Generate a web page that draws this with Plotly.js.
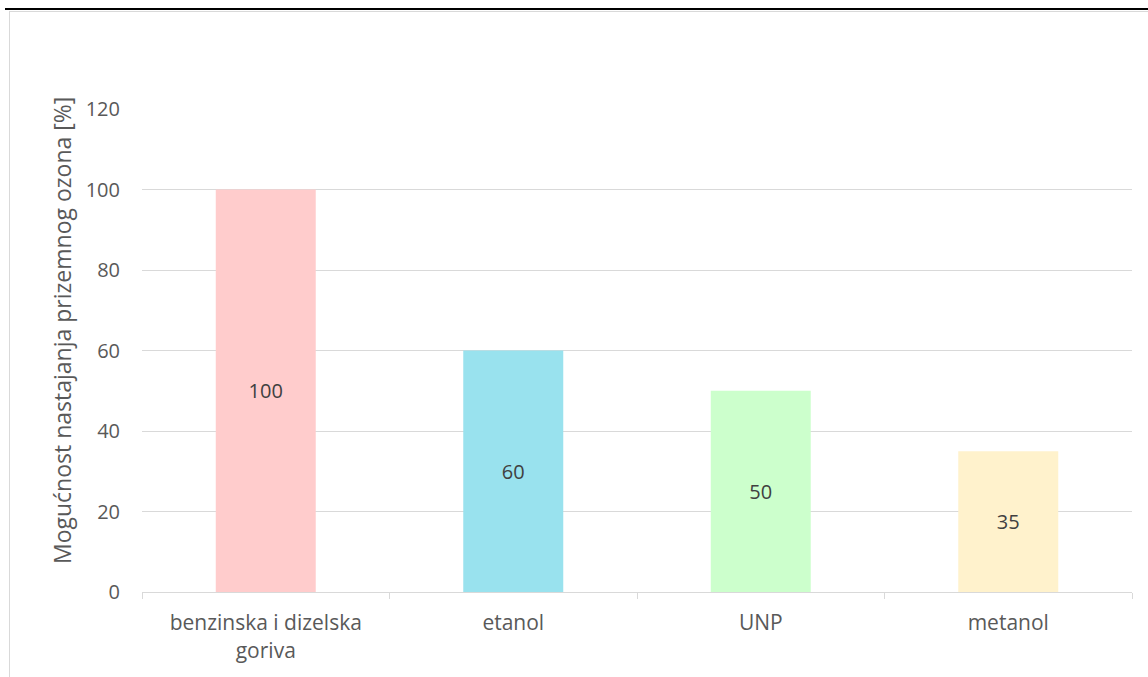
<!DOCTYPE html>
<html><head><meta charset="utf-8">
<script src="https://cdn.plot.ly/plotly-3.0.1.min.js"></script>
<style>
body{margin:0;background:#fff;}
#wrap{position:relative;width:1148px;height:677px;overflow:hidden;}
#chart{position:absolute;left:0;top:0;width:1148px;height:677px;}
.topline{position:absolute;left:5px;top:8px;width:1143px;height:2px;background:#000;}
.frameL{position:absolute;left:9px;top:11px;width:1px;height:666px;background:#d9d9d9;}
.frameT{position:absolute;left:9px;top:11px;width:1139px;height:1px;background:#d9d9d9;}
</style></head>
<body><div id="wrap"><div id="chart"></div><div class="topline"></div><div class="frameL"></div><div class="frameT"></div></div>
<script>
const categories = ["benzinska i dizelska<br>goriva", "etanol", "UNP", "metanol"];
const values = [100, 60, 50, 35];
const barColors = ["#FFCCCC", "#99E2EE", "#CCFFCC", "#FFF2CC"];
const yTicks = [0, 20, 40, 60, 80, 100, 120];
const yTitle = "Mogućnost nastajanja prizemnog ozona [%]";

const font = "'Open Sans', sans-serif";
Plotly.newPlot("chart", [{
  type: "bar",
  x: categories,
  y: values,
  marker: {color: barColors},
  width: 0.404,
  text: values.map(String),
  textposition: "inside",
  insidetextanchor: "middle",
  textfont: {family: font, size: 20, color: "#404040"},
  hoverinfo: "none"
}], {
  width: 1148, height: 677,
  margin: {l: 142, r: 16, t: 109, b: 85},
  paper_bgcolor: "rgba(0,0,0,0)", plot_bgcolor: "rgba(0,0,0,0)",
  showlegend: false,
  xaxis: {
    type: "category",
    showline: true, linecolor: "#d9d9d9", linewidth: 1,
    ticks: "outside", tickson: "boundaries", ticklen: 6, tickcolor: "#d9d9d9",
    tickfont: {family: font, size: 21, color: "#595959"},
    ticklabelstandoff: 12,
    showgrid: false
  },
  yaxis: {
    range: [0, 120], tickvals: yTicks,
    showgrid: true, gridcolor: "#d9d9d9", gridwidth: 1,
    zeroline: false, showline: false,
    tickfont: {family: font, size: 20, color: "#595959"},
    ticklabelstandoff: 21
  },
  annotations: [{
    text: yTitle, textangle: -90, showarrow: false,
    xref: "paper", yref: "paper", x: -0.081, y: 0.542,
    xanchor: "center", yanchor: "middle",
    font: {family: font, size: 23, color: "#595959"}
  }]
}, {displayModeBar: false, staticPlot: true});
</script></body></html>
